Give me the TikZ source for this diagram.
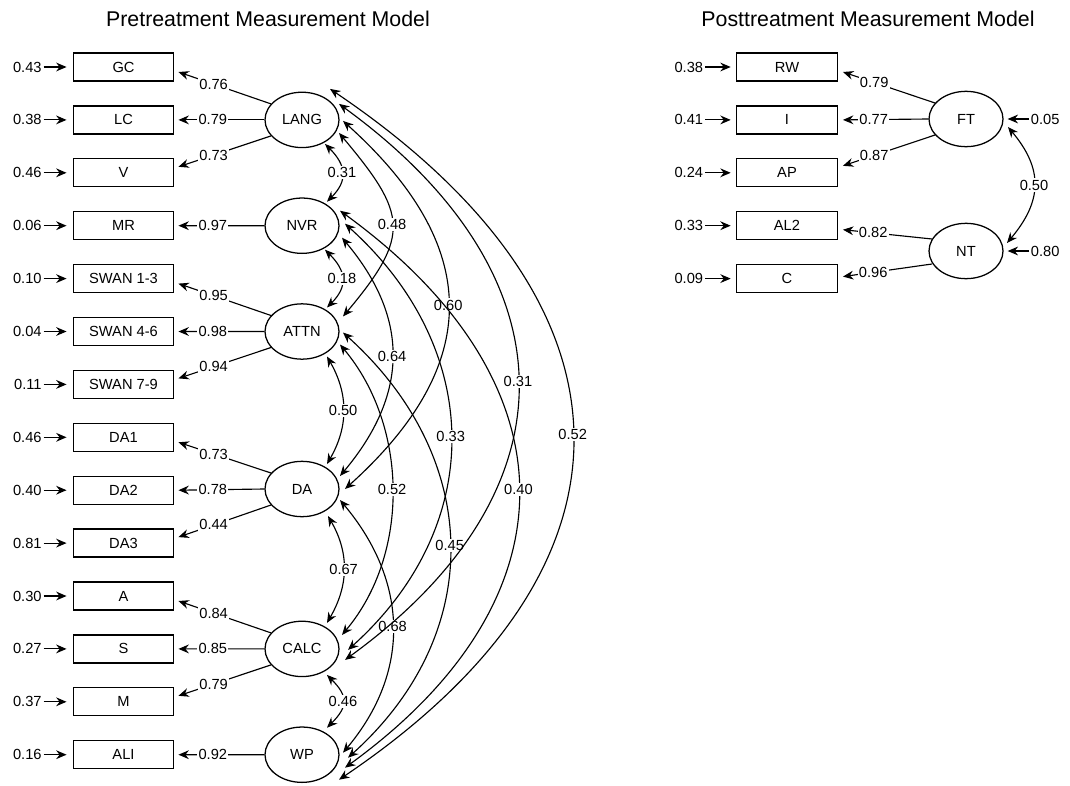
\documentclass[tikz,border=0pt]{standalone}
\usepackage{fontspec}
\setmainfont{Liberation Sans}
\usetikzlibrary{arrows.meta,shapes.geometric,calc}
\begin{document}
\begin{tikzpicture}[x=0.75pt,y=0.75pt,
  font=\fontsize{11}{13}\selectfont,
  >={Stealth[length=7.8pt,width=6.6pt,inset=2.6pt]},
  line width=0.85pt,
  obs/.style={draw,line width=0.95pt,minimum width=75.5pt,minimum height=21pt,inner sep=0pt},
  lat/.style={draw,ellipse,line width=0.95pt,minimum width=55.5pt,minimum height=41.5pt,inner sep=0pt},
  err/.style={inner sep=1pt,anchor=east},
  res/.style={inner sep=1pt,anchor=west},
  lab/.style={fill=white,inner sep=1pt},
  ttl/.style={font=\fontsize{16}{19}\selectfont}
]
\useasboundingbox (0,0) rectangle (1070,-785);

% titles
\node[ttl] (t1) at (268,-19) {Pretreatment Measurement Model};
\node[ttl] (t2) at (868,-19) {Posttreatment Measurement Model};

% ---------- pretreatment indicators ----------
\foreach \n/\t/\e [count=\k from 0] in {GC/GC/0.43, LC/LC/0.38, V/V/0.46, MR/MR/0.06,
  S13/SWAN 1-3/0.10, S46/SWAN 4-6/0.04, S79/SWAN 7-9/0.11, DA1/DA1/0.46, DA2/DA2/0.40,
  DA3/DA3/0.81, A/A/0.30, S/S/0.27, M/M/0.37, ALI/ALI/0.16}{
  \node[obs] (\n) at (123.5,{-67-52.9*\k}) {\t};
  \node[err] (e\n) at (43.5,{-67-52.9*\k}) {\e};
  \draw[->,shorten >=4.5pt] (e\n) -- (\n);
}

% latent factors
\node[lat] (LANG) at (302,-119.9) {LANG};
\node[lat] (NVR)  at (302,-225.7) {NVR};
\node[lat] (ATTN) at (302,-331.5) {ATTN};
\node[lat] (DA)   at (302,-489)   {DA};
\node[lat] (CALC) at (302,-648.9) {CALC};
\node[lat] (WP)   at (302,-754.7) {WP};

% loadings
\draw[<-] ($(GC.east)+(4,-5)$) -- ($(LANG)+(-31,16)$) node[lab,pos=0.38]{0.76};
\draw[<-] ($(LC.east)+(4,0)$) -- (LANG.west) node[lab,pos=0.4]{0.79};
\draw[<-] ($(V.east)+(4,6)$) -- ($(LANG)+(-31,-16)$) node[lab,pos=0.38]{0.73};
\draw[<-] ($(MR.east)+(4,0)$) -- (NVR.west) node[lab,pos=0.4]{0.97};
\draw[<-] ($(S13.east)+(4,-5)$) -- ($(ATTN)+(-31,16)$) node[lab,pos=0.38]{0.95};
\draw[<-] ($(S46.east)+(4,0)$) -- (ATTN.west) node[lab,pos=0.4]{0.98};
\draw[<-] ($(S79.east)+(4,6)$) -- ($(ATTN)+(-31,-16)$) node[lab,pos=0.38]{0.94};
\draw[<-] ($(DA1.east)+(4,-5)$) -- ($(DA)+(-31,16)$) node[lab,pos=0.38]{0.73};
\draw[<-] ($(DA2.east)+(4,0)$) -- (DA.west) node[lab,pos=0.4]{0.78};
\draw[<-] ($(DA3.east)+(4,6)$) -- ($(DA)+(-31,-16)$) node[lab,pos=0.38]{0.44};
\draw[<-] ($(A.east)+(4,-5)$) -- ($(CALC)+(-31,16)$) node[lab,pos=0.38]{0.84};
\draw[<-] ($(S.east)+(4,0)$) -- (CALC.west) node[lab,pos=0.4]{0.85};
\draw[<-] ($(M.east)+(4,6)$) -- ($(CALC)+(-31,-16)$) node[lab,pos=0.38]{0.79};
\draw[<-] ($(ALI.east)+(4,0)$) -- (WP.west) node[lab,pos=0.4]{0.92};

% correlations, span 1
\draw[<->] ($(LANG)+(23,-24)$) .. controls +(-45:30) and +(45:30) .. ($(NVR)+(25,24)$) node[lab,midway]{0.31};
\draw[<->] ($(NVR)+(23,-24)$) .. controls +(-45:30) and +(45:30) .. ($(ATTN)+(25,24)$) node[lab,midway]{0.18};
\draw[<->] ($(ATTN)+(25,-25)$) .. controls +(-60:43) and +(60:43) .. ($(DA)+(25,25)$) node[lab,midway]{0.50};
\draw[<->] ($(DA)+(26,-27)$) .. controls +(-60:43) and +(60:43) .. ($(CALC)+(25,26)$) node[lab,midway]{0.67};
\draw[<->] ($(CALC)+(25,-26)$) .. controls +(-45:30) and +(45:30) .. ($(WP)+(25,27)$) node[lab,midway]{0.46};
% span 2
\draw[<->] ($(LANG)+(37,-13)$) .. controls +(-50:106) and +(50:106) .. ($(ATTN)+(41,15)$) node[lab,midway]{0.48};
\draw[<->] ($(NVR)+(40,-12)$) .. controls +(-50:106) and +(50:106) .. ($(DA)+(38,13)$) node[lab,midway]{0.64};
\draw[<->] ($(ATTN)+(38,-13)$) .. controls +(-50:106) and +(50:106) .. ($(CALC)+(40,14)$) node[lab,midway]{0.52};
\draw[<->] ($(DA)+(38,-11)$) .. controls +(-50:106) and +(50:106) .. ($(WP)+(41,2)$) node[lab,midway]{0.68};
% span 3
\draw[<->] ($(LANG)+(41,-1)$) .. controls +(-42:187) and +(42:187) .. ($(DA)+(43,0)$) node[lab,midway]{0.60};
\draw[<->] ($(NVR)+(43,2)$) .. controls +(-42:187) and +(42:187) .. ($(CALC)+(46,-1)$) node[lab,midway]{0.33};
\draw[<->] ($(ATTN)+(41,-1)$) .. controls +(-42:187) and +(42:187) .. ($(WP)+(46,-3)$) node[lab,midway]{0.45};
% span 4
\draw[<->] ($(LANG)+(37,16)$) .. controls +(-36:290) and +(36:290) .. ($(CALC)+(43,-11)$) node[lab,midway]{0.31};
\draw[<->] ($(NVR)+(38,15)$) .. controls +(-36:290) and +(36:290) .. ($(WP)+(43,-13)$) node[lab,midway]{0.40};
% span 5
\draw[<->] ($(LANG)+(28,31)$) .. controls +(-34:383) and +(34:383) .. ($(WP)+(37,-25)$) node[lab,midway]{0.52};

% ---------- posttreatment ----------
\foreach \n/\t/\e [count=\k from 0] in {RW/RW/0.38, I/I/0.41, AP/AP/0.24, AL2/AL2/0.33, C/C/0.09}{
  \node[obs] (\n) at (787,{-67-52.9*\k}) {\t};
  \node[err] (e\n) at (705,{-67-52.9*\k}) {\e};
  \draw[->,shorten >=4pt] (e\n) -- (\n);
}
\node[lat] (FT) at (966,-119) {FT};
\node[lat] (NT) at (966,-251) {NT};

\draw[<-] ($(RW.east)+(5,-5)$) -- ($(FT)+(-31,16)$) node[lab,pos=0.34]{0.79};
\draw[<-] ($(I.east)+(5,0)$) -- (FT.west) node[lab,pos=0.36]{0.77};
\draw[<-] ($(AP.east)+(5,7)$) -- ($(FT)+(-31,-16)$) node[lab,pos=0.34]{0.87};
\draw[<-] ($(AL2.east)+(5,-4)$) -- ($(NT)+(-34,12)$) node[lab,pos=0.34]{0.82};
\draw[<-] ($(C.east)+(5,2)$) -- ($(NT)+(-34,-13)$) node[lab,pos=0.34]{0.96};

\node[res] (eFT) at (1029,-119) {0.05};
\node[res] (eNT) at (1029,-251) {0.80};
\draw[->,shorten >=3pt] (eFT) -- (FT);
\draw[->,shorten >=3pt] (eNT) -- (NT);

\draw[<->] ($(FT)+(42,-8)$) .. controls +(-50:55) and +(50:55) .. ($(NT)+(41,8)$) node[lab,midway]{0.50};
\end{tikzpicture}
\end{document}
